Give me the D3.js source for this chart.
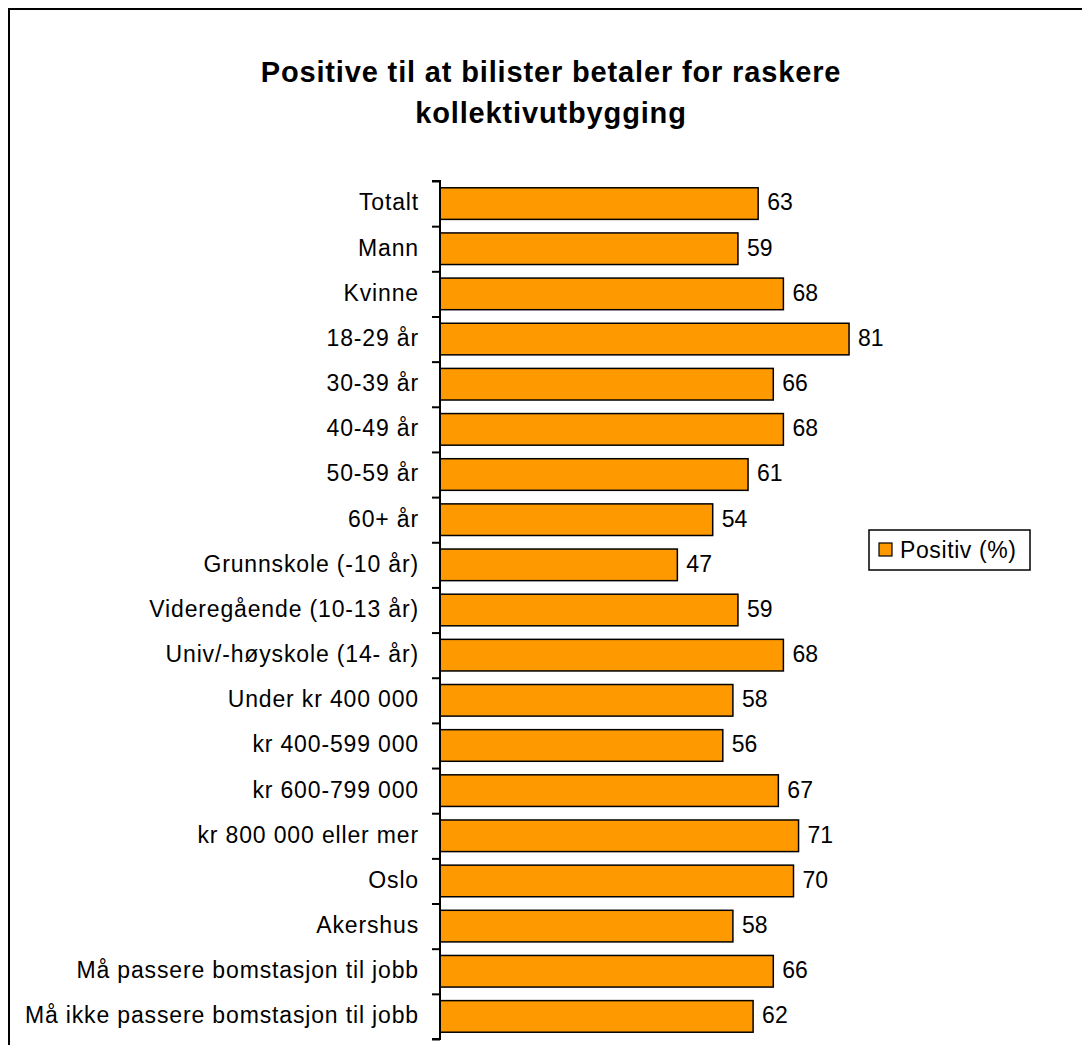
<!DOCTYPE html>
<html>
<head>
<meta charset="utf-8">
<script src="https://cdn.jsdelivr.net/npm/d3@7"></script>
<style>
  html, body { margin: 0; padding: 0; background: #fff; }
  svg { display: block; }
  text { font-family: Arial, "Liberation Sans", sans-serif; fill: #000; }
</style>
</head>
<body>
<script>
const titleLines = ["Positive til at bilister betaler for raskere", "kollektivutbygging"];
const categories = [
  "Totalt", "Mann", "Kvinne", "18-29 år", "30-39 år", "40-49 år", "50-59 år", "60+ år",
  "Grunnskole (-10 år)", "Videregående (10-13 år)", "Univ/-høyskole (14- år)",
  "Under kr 400 000", "kr 400-599 000", "kr 600-799 000", "kr 800 000 eller mer",
  "Oslo", "Akershus", "Må passere bomstasjon til jobb", "Må ikke passere bomstasjon til jobb"
];
const values = [63, 59, 68, 81, 66, 68, 61, 54, 47, 59, 68, 58, 56, 67, 71, 70, 58, 66, 62];
const seriesName = "Positiv (%)";

const W = 1082, H = 1045;
const svg = d3.select("body").append("svg").attr("width", W).attr("height", H);

// outer chart border (right/bottom edges fall outside the picture)
svg.append("rect").attr("x", 9).attr("y", 9).attr("width", W + 20).attr("height", H + 20)
  .attr("fill", "none").attr("stroke", "#000").attr("stroke-width", 2);

// title
svg.selectAll("text.title").data(titleLines).join("text").attr("class", "title")
  .attr("x", 551).attr("y", (d, i) => 82 + i * 41).attr("text-anchor", "middle")
  .style("font-size", "29px").style("font-weight", "bold").style("letter-spacing", "0.85px")
  .text(d => d);

const x0 = 440;
const x = d3.scaleLinear().domain([0, 100]).range([x0, x0 + 505]);
const y = d3.scaleBand().domain(categories).range([181, 1039]).paddingInner(0.3).paddingOuter(0.15);

// bars
svg.append("g").selectAll("rect").data(values).join("rect")
  .attr("x", x(0))
  .attr("y", (d, i) => y(categories[i]))
  .attr("width", d => x(d) - x(0))
  .attr("height", y.bandwidth())
  .attr("fill", "#FF9900").attr("stroke", "#000").attr("stroke-width", 1.5);

// value labels
svg.append("g").selectAll("text").data(values).join("text")
  .attr("x", d => x(d) + 9)
  .attr("y", (d, i) => y(categories[i]) + y.bandwidth() / 2)
  .attr("dy", "0.3em")
  .style("font-size", "23px")
  .text(d => d);

// category axis with tick marks between categories
const idx = d3.scaleLinear().domain([0, categories.length]).range([181, 1039]);
const axis = d3.axisLeft(idx).tickValues(d3.range(categories.length + 1)).tickSize(8).tickFormat("");
const ag = svg.append("g").attr("transform", `translate(${x0},0)`).call(axis);
ag.select(".domain").attr("stroke", "#000").attr("stroke-width", 2).attr("d", `M-8,181H0V1039H-8`);
ag.selectAll(".tick line").attr("stroke", "#000").attr("stroke-width", 2);

// category labels
svg.append("g").selectAll("text").data(categories).join("text")
  .attr("x", 419)
  .attr("y", d => y(d) + y.bandwidth() / 2)
  .attr("dy", "0.3em")
  .attr("text-anchor", "end")
  .style("font-size", "23px")
  .style("letter-spacing", "0.85px")
  .text(d => d);

// legend
const lg = svg.append("g");
lg.append("rect").attr("x", 869).attr("y", 530).attr("width", 161).attr("height", 40)
  .attr("fill", "#fff").attr("stroke", "#000").attr("stroke-width", 1.5);
lg.append("rect").attr("x", 879).attr("y", 543).attr("width", 13).attr("height", 13)
  .attr("fill", "#FF9900").attr("stroke", "#000").attr("stroke-width", 1.2);
lg.append("text").attr("x", 900).attr("y", 550).attr("dy", "0.33em")
  .style("font-size", "23px").style("letter-spacing", "0.6px").text(seriesName);
</script>
</body>
</html>
